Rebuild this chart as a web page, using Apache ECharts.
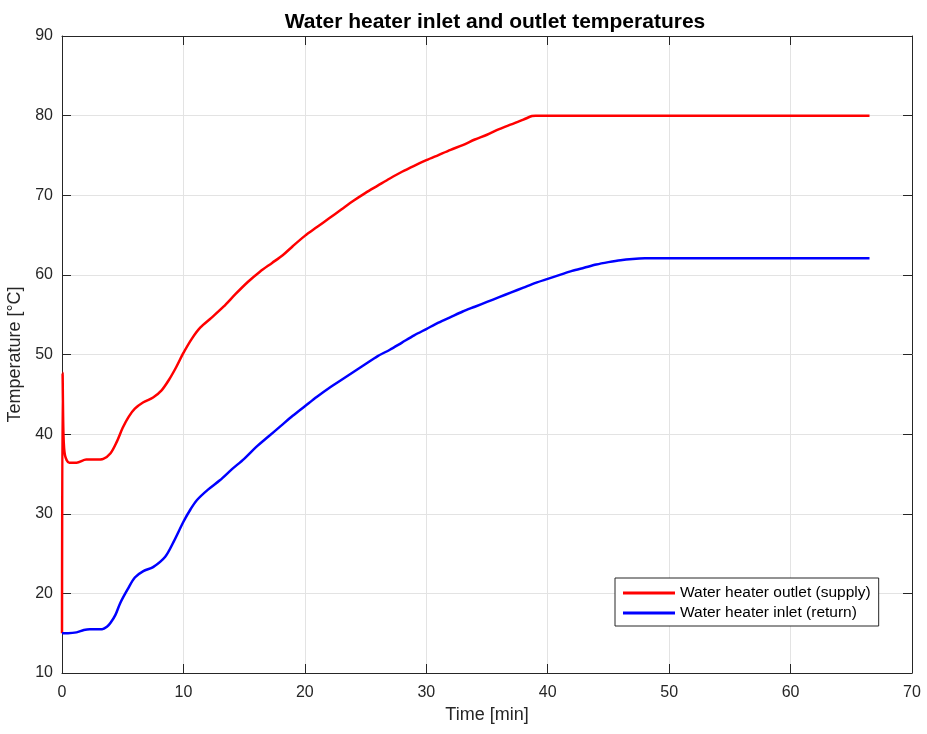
<!DOCTYPE html>
<html>
<head>
<meta charset="utf-8">
<script src="https://cdn.jsdelivr.net/npm/echarts@6/dist/echarts.min.js"></script>
<style>
  html, body { margin: 0; padding: 0; background: #fff; }
  #chart { width: 927px; height: 734px; }
</style>
</head>
<body>
<div id="chart"></div>
<script>
// Time [min] / temperature [°C] pairs
const outletSupply = [
  [0, 15], [0.05, 47.7], [0.12, 40], [0.25, 37.3], [0.6, 36.4], [1.2, 36.4],
  [2, 36.8], [2.8, 36.8], [3.4, 36.9], [4, 37.6], [4.5, 39], [5, 40.8],
  [5.5, 42.2], [6, 43.2], [6.7, 44], [7.5, 44.6], [8.2, 45.5], [8.8, 46.8],
  [9.4, 48.4], [10, 50.2], [10.7, 52], [11.4, 53.4], [12.3, 54.6], [13.3, 56],
  [14.3, 57.6], [15.3, 59.1], [16.3, 60.4], [17.3, 61.5], [18.2, 62.5],
  [19, 63.6], [20, 64.9], [21, 66], [22, 67.1], [23, 68.2], [24, 69.3],
  [25, 70.3], [26, 71.2], [27, 72.1], [28, 72.95], [29, 73.7], [30, 74.4],
  [31, 75.05], [32, 75.7], [33, 76.3], [34, 77], [35, 77.6], [36, 78.3],
  [37, 78.9], [38, 79.5], [38.7, 79.95], [39, 80], [66.5, 80]
];
const inletReturn = [
  [0, 15], [0.5, 15], [1.2, 15.1], [1.8, 15.4], [2.3, 15.5], [3.3, 15.5],
  [3.7, 15.8], [4, 16.3], [4.4, 17.3], [4.8, 18.8], [5.4, 20.5], [6, 22],
  [6.7, 22.8], [7.5, 23.3], [8.5, 24.6], [9.2, 26.5], [10, 29], [10.6, 30.6],
  [11.1, 31.7], [12, 33], [13, 34.2], [14, 35.6], [15, 36.9], [16, 38.4],
  [17, 39.7], [18, 41], [19, 42.3], [20, 43.5], [21, 44.7], [22, 45.8],
  [23, 46.8], [24, 47.8], [25, 48.8], [26, 49.8], [27, 50.6], [28, 51.5],
  [29, 52.4], [30, 53.2], [31, 54], [32, 54.7], [33, 55.4], [34, 56],
  [35, 56.6], [36, 57.2], [37, 57.8], [38, 58.4], [39, 59], [40, 59.5],
  [41, 60], [42, 60.5], [43, 60.9], [44, 61.3], [45, 61.6], [46, 61.85],
  [47, 62], [48, 62.08], [50, 62.1], [66.5, 62.1]
];
const seriesNames = ['Water heater outlet (supply)', 'Water heater inlet (return)'];
const xRange = [0, 70, 10];
const yRange = [10, 90, 10];

const ink = '#262626';
const font = 'Liberation Sans, Arial, Helvetica, sans-serif';

function axisBase(range, extra){
  return Object.assign({
    type: 'value',
    min: range[0],
    max: range[1],
    interval: range[2],
    axisLine: { show: true, onZero: false, lineStyle: { color: ink, width: 1 } },
    axisTick: { show: true, inside: true, length: 9, lineStyle: { color: ink } },
    axisLabel: { color: ink, fontSize: 16, fontFamily: font },
    splitLine: { show: false }
  }, extra);
}

const chart = echarts.init(document.getElementById('chart'));
chart.setOption({
  animation: false,
  backgroundColor: '#fff',
  title: {
    text: 'Water heater inlet and outlet temperatures',
    left: 490, top: 7, textAlign: 'center',
    textStyle: { color: '#000', fontSize: 21, fontWeight: 'bold', fontFamily: font }
  },
  grid: { left: 62, right: 15, top: 36, bottom: 61, outerBoundsMode: 'none' },
  legend: {
    orient: 'vertical',
    left: 615, top: 578,
    data: seriesNames,
    icon: 'rect',
    itemWidth: 52, itemHeight: 3, itemGap: 4,
    padding: [7, 8, 5, 8],
    backgroundColor: '#fff',
    borderColor: ink, borderWidth: 1, borderRadius: 0,
    textStyle: { color: '#000', fontSize: 15.5, fontFamily: font }
  },
  xAxis: [
    axisBase(xRange, {
      name: 'Time [min]', nameLocation: 'middle', nameGap: 33,
      nameTextStyle: { color: ink, fontSize: 18, fontFamily: font },
      axisLabel: { color: ink, fontSize: 16, fontFamily: font, margin: 12 },
      splitLine: { show: true, lineStyle: { color: '#e3e3e3', width: 1 } }
    }),
    axisBase(xRange, { position: 'top', axisLabel: { show: false } })
  ],
  yAxis: [
    axisBase(yRange, {
      name: 'Temperature [°C]', nameLocation: 'middle', nameGap: 33,
      nameTextStyle: { color: ink, fontSize: 18, fontFamily: font },
      axisLabel: { color: ink, fontSize: 16, fontFamily: font, margin: 9 },
      splitLine: { show: true, lineStyle: { color: '#e3e3e3', width: 1 } }
    }),
    axisBase(yRange, { position: 'right', axisLabel: { show: false } })
  ],
  series: [
    {
      name: seriesNames[0], type: 'line', data: outletSupply,
      showSymbol: false, smooth: 0.3,
      lineStyle: { color: '#ff0000', width: 2.5 }, itemStyle: { color: '#ff0000' }
    },
    {
      name: seriesNames[1], type: 'line', data: inletReturn,
      showSymbol: false, smooth: 0.3,
      lineStyle: { color: '#0000ff', width: 2.5 }, itemStyle: { color: '#0000ff' }
    }
  ]
});
</script>
</body>
</html>
